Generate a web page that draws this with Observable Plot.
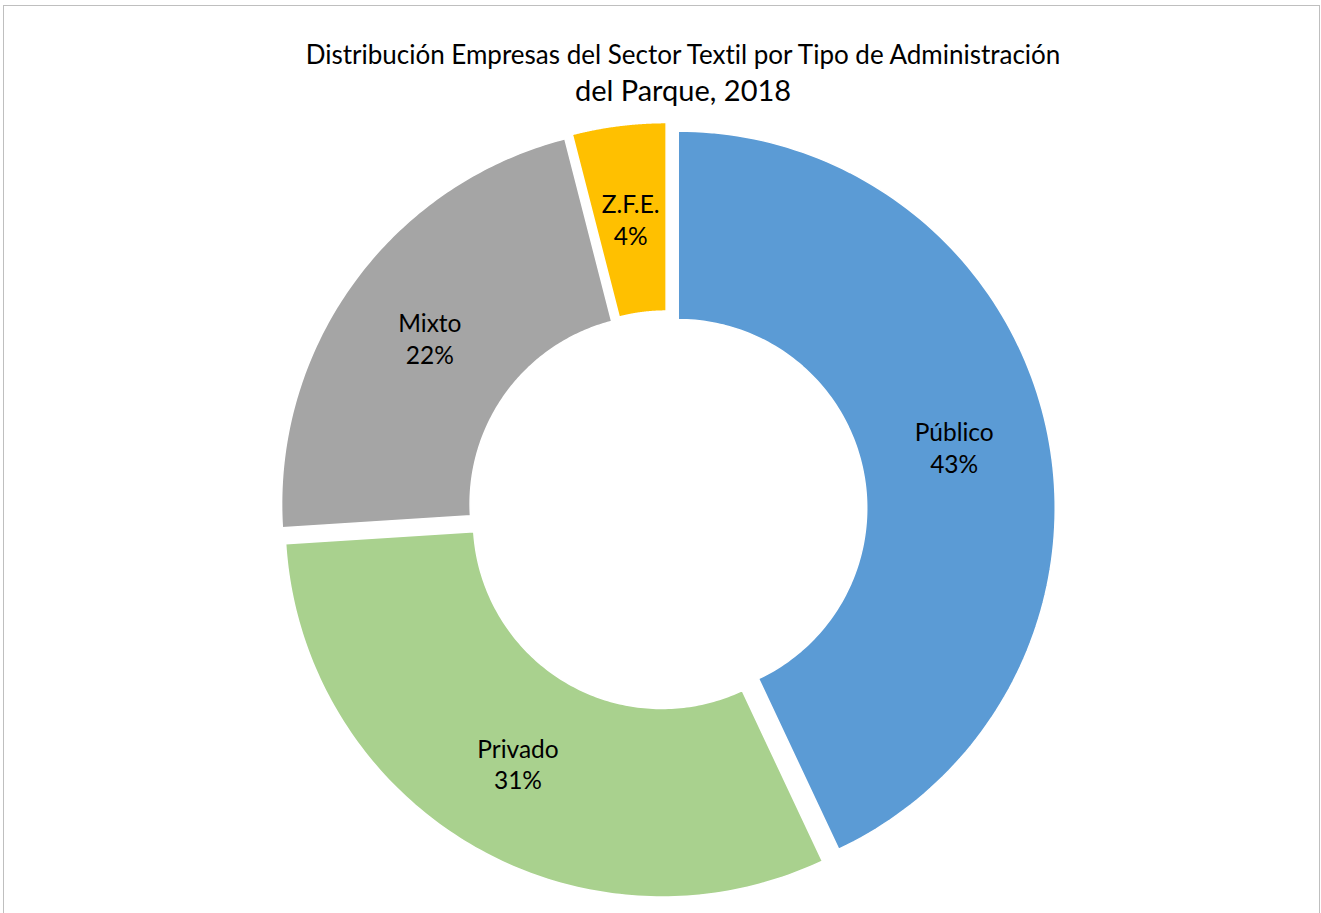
<!DOCTYPE html>
<html><head><meta charset="utf-8">
<script src="https://cdn.jsdelivr.net/npm/d3@7"></script>
<script src="https://cdn.jsdelivr.net/npm/@observablehq/plot@0.6"></script>
<style>
html,body{margin:0;padding:0;background:#fff;}
body{font-family:Lato,"Open Sans",sans-serif;width:1321px;height:913px;overflow:hidden;position:relative;font-variant-ligatures:none;}
#frame{position:absolute;left:3px;top:5px;width:1317px;height:930px;border:1px solid #bfbfbf;box-sizing:border-box;}
#title{position:absolute;left:0;top:39px;width:1366px;text-align:center;color:#000;}
#title .l1{font-size:26px;line-height:30px;}
#title .l2{font-size:29px;line-height:41px;}
#chart{position:absolute;left:0;top:0;}
#chart text{font-variant-ligatures:none;}
</style></head>
<body>
<div id="frame"></div>
<div id="chart"></div>
<div id="title"><div class="l1">Distribución Empresas del Sector Textil por Tipo de Administración</div><div class="l2">del Parque, 2018</div></div>
<script>
const categories = ["Público", "Privado", "Mixto", "Z.F.E."];
const values = [43, 31, 22, 4];
const labels = ["43%", "31%", "22%", "4%"];
const colors = ["#5B9BD5", "#A9D18E", "#A5A5A5", "#FFC000"];

const W = 1321, H = 913;
const cx = 667, cy = 510, R = 377;   // pixel geometry of the donut
const inner = 0.5, explode = 11 / R;

const arcs = d3.pie().sort(null).value(d => d)(values);
const rows = [];
const labelRows = [];
arcs.forEach((a, i) => {
  const mid = (a.startAngle + a.endAngle) / 2;
  const ox = Math.sin(mid) * explode, oy = Math.cos(mid) * explode;
  const n = 120;
  for (let t = 0; t <= n; t++) {
    const ang = a.startAngle + (a.endAngle - a.startAngle) * t / n;
    rows.push({name: categories[i], x: ox + Math.sin(ang), y: oy + Math.cos(ang)});
  }
  for (let t = n; t >= 0; t--) {
    const ang = a.startAngle + (a.endAngle - a.startAngle) * t / n;
    rows.push({name: categories[i], x: ox + inner * Math.sin(ang), y: oy + inner * Math.cos(ang)});
  }
  const rm = (1 + inner) / 2;
  labelRows.push({name: categories[i], text: categories[i] + "\n" + labels[i],
    x: ox + rm * Math.sin(mid), y: oy + rm * Math.cos(mid)});
});

const chart = Plot.plot({
  width: W, height: H,
  margin: 0,
  x: {domain: [-cx / R, (W - cx) / R], axis: null},
  y: {domain: [-(H - cy) / R, cy / R], axis: null},
  color: {domain: categories, range: colors},
  style: {fontFamily: "Lato, 'Open Sans', sans-serif", background: "transparent"},
  marks: [
    Plot.line(rows, {x: "x", y: "y", z: "name", fill: "name", stroke: "white", strokeWidth: 1.5, curve: "linear-closed"}),
    Plot.text(labelRows, {x: "x", y: "y", text: "text", fontSize: 24.5, lineHeight: 1.3, fill: "#000"})
  ]
});
document.getElementById("chart").appendChild(chart);
</script>
</body></html>
